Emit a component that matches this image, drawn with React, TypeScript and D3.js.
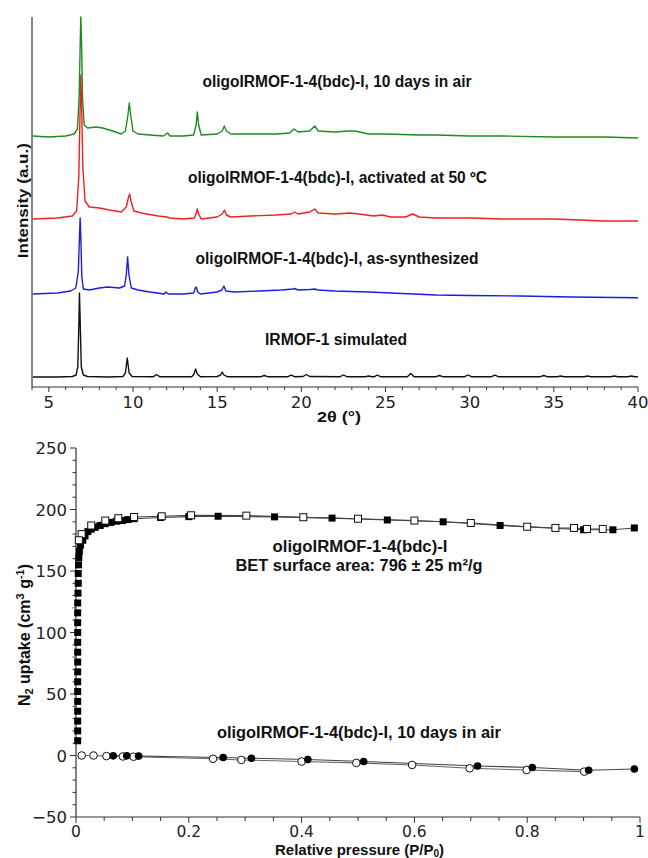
import React from 'react'
import * as d3 from 'd3'

// ---- PXRD patterns, [2θ (°), intensity (a.u., already stacked)] ----
const xrdSimulated = [
  [4.05, 10], [5.5, 10], [6.4, 10.5], [6.62, 12], [6.72, 20], [6.78, 60], [6.82, 94], [6.87, 60], [6.93, 20],
  [7.05, 12], [7.3, 10.5], [8.5, 10], [9.4, 10.5], [9.55, 14], [9.66, 29], [9.77, 14], [9.95, 10.5],
  [11.2, 10.2], [11.4, 12.5], [11.6, 10.2], [13.5, 10.3], [13.62, 13], [13.72, 18], [13.82, 13], [14.0, 10.3],
  [15.0, 10.5], [15.2, 12], [15.3, 15], [15.4, 12], [15.6, 10.3], [17.6, 10.3], [17.8, 11.5], [18.0, 10.3],
  [19.2, 10.3], [19.4, 11.8], [19.6, 10.3], [20.1, 10.5], [20.3, 12.5], [20.5, 10.5], [22.3, 10.3], [22.5, 12],
  [22.7, 10.3], [23.8, 10.3], [24.0, 11], [24.2, 10.3], [24.35, 10.3], [24.5, 12], [24.7, 10.3], [26.3, 10.3],
  [26.5, 13.5], [26.7, 10.3], [28.0, 10.3], [28.2, 11.5], [28.4, 10.3], [29.7, 10.3], [29.9, 12], [30.1, 10.3],
  [31.3, 10.3], [31.5, 11.8], [31.7, 10.3], [34.2, 10.3], [34.4, 11.5], [34.6, 10.3], [35.2, 10.3], [35.4, 11],
  [35.6, 10.3], [36.8, 10.3], [37.0, 11], [37.2, 10.3], [38.4, 10.3], [38.6, 11], [38.8, 10.3], [39.4, 10.3],
  [39.6, 11], [39.8, 10.3], [40, 10.3],
]

const xrdAsSynth = [
  [4.05, 93], [5.5, 94], [6.3, 96], [6.6, 99], [6.75, 115], [6.82, 150], [6.86, 169], [6.9, 150], [6.96, 110],
  [7.05, 98], [7.4, 97], [8.0, 99], [8.5, 100], [9.2, 99], [9.5, 101], [9.6, 112], [9.68, 130], [9.76, 112],
  [9.9, 99], [10.3, 97], [11.0, 95], [11.85, 93], [11.95, 95], [12.1, 93], [13.0, 93], [13.6, 94], [13.7, 99],
  [13.76, 100], [13.84, 95], [14.0, 93], [15.0, 95], [15.28, 97], [15.4, 101], [15.52, 96], [16.0, 95],
  [17.5, 96], [18.8, 97], [19.5, 98], [19.6, 98.5], [19.8, 97], [20.5, 97.5], [20.8, 98], [21.0, 97],
  [22.0, 96], [23.0, 95.5], [24.0, 95], [26.0, 93.5], [28.0, 92], [30.0, 91.5], [33.0, 91], [36.0, 90], [40.0, 89.3],
]

const xrdActivated = [
  [4.05, 168], [5.5, 169], [6.4, 171], [6.65, 176], [6.78, 210], [6.86, 280], [6.9, 312], [6.95, 280],
  [7.02, 220], [7.15, 186], [7.4, 180], [8.0, 179], [8.6, 177], [9.3, 175], [9.6, 180], [9.72, 189], [9.8, 193],
  [9.88, 186], [10.05, 176], [10.5, 174], [11.5, 171], [12.0, 170], [12.2, 169], [13.0, 168], [13.65, 169],
  [13.76, 174], [13.82, 178], [13.9, 173], [14.05, 168], [15.0, 170], [15.3, 173], [15.43, 177], [15.55, 172],
  [15.8, 170], [17.0, 171], [18.5, 172], [19.4, 173], [19.6, 175], [19.8, 173], [20.5, 175], [20.8, 178],
  [21.0, 174], [22.0, 173], [22.9, 174], [23.4, 173], [24.3, 171], [24.8, 172], [25.3, 170], [26.2, 170],
  [26.6, 173], [27.0, 170], [28.0, 169], [30.0, 169], [32.0, 168], [35.0, 168], [38.0, 166], [40.0, 166],
]

const xrdAir = [
  [4.05, 251], [5.0, 250], [6.0, 251], [6.5, 253], [6.7, 258], [6.8, 290], [6.86, 340], [6.9, 370], [6.95, 340],
  [7.0, 290], [7.1, 262], [7.3, 259], [7.8, 260], [8.2, 259], [8.8, 256], [9.3, 253], [9.55, 256], [9.7, 272],
  [9.78, 284], [9.86, 272], [10.0, 256], [10.3, 253], [11.0, 252], [11.8, 251], [12.05, 254], [12.2, 251],
  [13.0, 251], [13.6, 252], [13.75, 262], [13.82, 275], [13.9, 262], [14.05, 252], [15.0, 253], [15.3, 256],
  [15.42, 261], [15.55, 256], [15.8, 253], [17.0, 253], [18.5, 253], [19.3, 254], [19.57, 258], [19.8, 255],
  [20.5, 256], [20.8, 261], [21.0, 256], [22.0, 255], [22.8, 256], [23.2, 256], [24.0, 253], [25.0, 253],
  [27.0, 252], [28.0, 252], [30.0, 251], [32.0, 251], [35.0, 250], [38.0, 250], [40.0, 249],
]

const xrdSeries = [
  { key: 'sim', color: '#111111', data: xrdSimulated },
  { key: 'synth', color: '#1c1ce0', data: xrdAsSynth },
  { key: 'act', color: '#ee2020', data: xrdActivated },
  { key: 'air', color: '#1f8a1f', data: xrdAir },
]

// ---- N2 isotherms at 77 K, [P/P0, uptake cm3/g] ----
const freshAds = [
  [0.003, 12], [0.003, 20], [0.003, 28], [0.003, 36], [0.003, 44], [0.003, 52], [0.003, 60], [0.003, 68],
  [0.003, 76], [0.003, 84], [0.003, 92], [0.003, 100], [0.003, 108], [0.003, 116], [0.003, 124], [0.0035, 132],
  [0.004, 140], [0.004, 148], [0.0045, 155], [0.005, 161], [0.006, 166], [0.008, 171], [0.012, 175],
  [0.016, 178.5], [0.021, 182], [0.027, 184], [0.034, 185.5], [0.043, 187], [0.052, 188.5], [0.062, 189.5],
  [0.072, 190.5], [0.082, 191], [0.092, 191.8], [0.103, 192.5], [0.15, 193.5], [0.2, 194.2], [0.252, 194.5],
  [0.352, 194], [0.454, 193], [0.552, 191.5], [0.651, 190], [0.752, 187], [0.9, 183.5], [0.952, 183.5], [0.99, 185],
]
const freshDes = [
  [0.934, 184.2], [0.906, 184.2], [0.883, 185], [0.85, 185], [0.8, 186], [0.7, 189], [0.6, 191], [0.5, 192.5],
  [0.403, 193.7], [0.302, 195], [0.204, 195.3], [0.152, 194.5], [0.103, 193.9], [0.075, 192.9], [0.052, 191],
  [0.027, 187], [0.01, 180], [0.005, 175],
]
const airAds = [
  [0.066, -0.3], [0.09, -0.3], [0.111, -0.5], [0.261, -1.6], [0.311, -2.2], [0.411, -3.3], [0.51, -4.9],
  [0.712, -8.5], [0.809, -9.8], [0.909, -12], [0.99, -11],
]
const airDes = [
  [0.901, -13.1], [0.799, -11.8], [0.698, -10.4], [0.596, -7.7], [0.497, -6], [0.4, -4.9], [0.293, -3.6],
  [0.243, -2.7], [0.102, -1], [0.083, -0.8], [0.054, -0.5], [0.031, 0], [0.01, 0],
]

const FONT = '"Liberation Sans Narrow", "Arial Narrow", "Liberation Sans", Arial, sans-serif'
const TICKFONT = '"DejaVu Sans", sans-serif'

// bold label squeezed to the width it has in the figure
const Fit = ({ x, y, w, size, children, rotate = false }: any) => (
  <text
    transform={`translate(${x},${y})${rotate ? ' rotate(-90)' : ''}`}
    textAnchor="middle"
    fontFamily={FONT}
    fontWeight="bold"
    fontSize={size}
    textLength={w}
    lengthAdjust="spacingAndGlyphs"
    fill="#111"
  >
    {children}
  </text>
)

export default function App() {
  const xT = d3.scaleLinear().domain([4, 40]).range([32, 638])
  const yT = d3.scaleLinear().domain([0, 370]).range([387, 17])
  const xB = d3.scaleLinear().domain([0, 1]).range([76, 640])
  const yB = d3.scaleLinear().domain([-50, 250]).range([817, 448])

  const lineT = d3.line<number[]>().x(d => xT(d[0])).y(d => yT(d[1]))
  const lineB = d3.line<number[]>().x(d => xB(d[0])).y(d => yB(d[1]))
  const fmt = d3.format('~g')
  const sq = 7

  // the steep part of the adsorption branch shows as separate markers only
  const adsLine = freshAds.filter(d => d[1] > 165)

  return (
    <svg width={648} height={858} style={{ position: 'absolute', left: 0, top: 0, background: '#fff' }}>
      {/* ---------- PXRD ---------- */}
      <g>
        {xrdSeries.map(s => (
          <path key={s.key} d={lineT(s.data) || ''} fill="none" stroke={s.color} strokeWidth={1.4} strokeLinejoin="round" />
        ))}
        <line x1={32} x2={32} y1={yT(370)} y2={387} stroke="#333" strokeWidth={1.2} />
        <line x1={32} x2={638} y1={387} y2={387} stroke="#333" strokeWidth={1.2} />
        {xT.ticks(36).map(t => (
          <line key={t} x1={xT(t)} x2={xT(t)} y1={387} y2={387 + (t % 5 === 0 ? 5 : 3)} stroke="#333" strokeWidth={1} />
        ))}
        {xT.ticks(8).map(t => (
          <text key={t} x={xT(t)} y={408} textAnchor="middle" fontFamily={TICKFONT} fontSize={16.5} fill="#222">{fmt(t)}</text>
        ))}
        <Fit x={339} y={422} w={44} size={15.5}>2θ (°)</Fit>
        <Fit x={28} y={200.7} w={115} size={15.5} rotate>Intensity (a.u.)</Fit>

        <Fit x={337} y={86.5} w={269} size={16}>oligoIRMOF-1-4(bdc)-I, 10 days in air</Fit>
        <Fit x={337.4} y={182.5} w={299} size={16}>oligoIRMOF-1-4(bdc)-I, activated at 50 ºC</Fit>
        <Fit x={337} y={264} w={283} size={16}>oligoIRMOF-1-4(bdc)-I, as-synthesized</Fit>
        <Fit x={336} y={344.5} w={142} size={16}>IRMOF-1 simulated</Fit>
      </g>

      {/* ---------- N2 isotherms ---------- */}
      <g>
        <line x1={76} x2={76} y1={yB(250)} y2={yB(-50)} stroke="#333" strokeWidth={1.2} />
        <line x1={76} x2={640} y1={yB(-50)} y2={yB(-50)} stroke="#333" strokeWidth={1.2} />
        {yB.ticks(30).map(t => (
          <line key={t} x1={76 - (t % 50 === 0 ? 6 : 3.5)} x2={76} y1={yB(t)} y2={yB(t)} stroke="#333" strokeWidth={1} />
        ))}
        {yB.ticks(6).map(t => (
          <text key={t} x={67} y={yB(t) + 6} textAnchor="end" fontFamily={TICKFONT} fontSize={16.5} fill="#222">{fmt(t)}</text>
        ))}
        {xB.ticks(20).map(t => (
          <line key={t} x1={xB(t)} x2={xB(t)} y1={yB(-50)} y2={yB(-50) + (Math.abs(t * 5 - Math.round(t * 5)) < 1e-6 ? 6 : 4)} stroke="#333" strokeWidth={1} />
        ))}
        {xB.ticks(5).map(t => (
          <text key={t} x={xB(t)} y={837} textAnchor="middle" fontFamily={TICKFONT} fontSize={15.5} fill="#222">{fmt(t)}</text>
        ))}

        <text x={359.5} y={854.5} textAnchor="middle" fontFamily={FONT} fontWeight="bold" fontSize={15} fill="#111">
          Relative pressure (P/P<tspan fontSize={10} dy={2}>0</tspan><tspan dy={-2}>)</tspan>
        </text>
        <text transform="translate(30,635) rotate(-90)" textAnchor="middle" fontFamily={FONT} fontWeight="bold" fontSize={16} fill="#111">
          N<tspan fontSize={11} dy={3}>2</tspan><tspan dy={-3}> uptake (cm</tspan><tspan fontSize={11} dy={-6}>3</tspan>
          <tspan dy={6}> g</tspan><tspan fontSize={11} dy={-6}>-1</tspan><tspan dy={6}>)</tspan>
        </text>

        <path d={lineB(adsLine) || ''} fill="none" stroke="#444" strokeWidth={1.1} />
        <path d={lineB(freshDes) || ''} fill="none" stroke="#444" strokeWidth={1.1} />
        <path d={lineB(airAds) || ''} fill="none" stroke="#444" strokeWidth={1.1} />
        <path d={lineB(airDes) || ''} fill="none" stroke="#666" strokeWidth={1.1} />

        {freshAds.map((d, i) => (
          <rect key={'fa' + i} x={xB(d[0]) - sq / 2} y={yB(d[1]) - sq / 2} width={sq} height={sq} fill="#000" />
        ))}
        {freshDes.map((d, i) => (
          <rect key={'fd' + i} x={xB(d[0]) - sq / 2} y={yB(d[1]) - sq / 2} width={sq} height={sq} fill="#fff" stroke="#111" strokeWidth={1} />
        ))}
        {airDes.map((d, i) => (
          <circle key={'ad' + i} cx={xB(d[0])} cy={yB(d[1])} r={3.8} fill="#fff" stroke="#111" strokeWidth={1} />
        ))}
        {airAds.map((d, i) => (
          <circle key={'aa' + i} cx={xB(d[0])} cy={yB(d[1])} r={3.8} fill="#000" />
        ))}

        <Fit x={360} y={551.5} w={175} size={16}>oligoIRMOF-1-4(bdc)-I</Fit>
        <Fit x={359} y={571} w={247} size={16}>BET surface area: 796 ± 25 m²/g</Fit>
        <Fit x={359} y={737.5} w={284} size={16}>oligoIRMOF-1-4(bdc)-I, 10 days in air</Fit>
      </g>
    </svg>
  )
}
